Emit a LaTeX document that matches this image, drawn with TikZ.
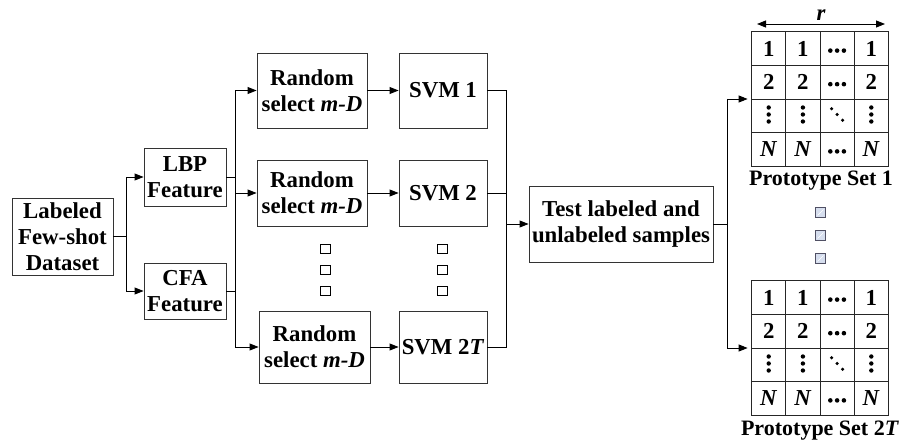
\documentclass[tikz,border=0pt]{standalone}
\usepackage{fontspec}
\setmainfont{Liberation Serif}
\usetikzlibrary{arrows.meta,matrix,calc}
\definecolor{sqfill}{RGB}{214,222,238}
\definecolor{sqline}{RGB}{80,80,100}
\begin{document}
\begin{tikzpicture}[x=1pt,y=-1pt,
  txt/.style={font=\bfseries\fontsize{22.8}{26}\selectfont},
  box/.style={txt,draw=black!80,line width=0.9pt,align=center,inner sep=0pt},
  conn/.style={line width=0.9pt},
  arr/.style={conn,-{Triangle[length=9pt,width=7pt]}},
  dotsq/.style={draw,line width=1pt,minimum width=10pt,minimum height=9pt,inner sep=0pt},
  lsq/.style={draw=sqline,fill=sqfill,line width=0.8pt,minimum width=10pt,minimum height=10pt,inner sep=0pt,
     path picture={\draw[white,line width=0.6pt] ([shift={(2pt,2pt)}]path picture bounding box.south west) -- ([shift={(-2pt,-2pt)}]path picture bounding box.north east);}},
  tbl/.style={matrix of nodes,column sep=-0.9pt,row sep=-0.9pt,
     nodes={draw=black!85,line width=0.9pt,minimum width=34.2pt,minimum height=33.6pt,inner sep=0pt,anchor=center,
            font=\bfseries\fontsize{22.8}{26}\selectfont}},
  lbl/.style={font=\bfseries\fontsize{22}{26}\selectfont,inner sep=0pt,anchor=base},
  dotc/.style={fill=black}
]
\useasboundingbox (0,0) rectangle (899,441);

% boxes
\node[box,minimum width=101pt,minimum height=77pt] (ds) at (62.5,236.5) {Labeled\\Few-shot\\Dataset};
\node[box,minimum width=82pt,minimum height=58pt] (lbp) at (185,177) {LBP\\Feature};
\node[box,minimum width=82pt,minimum height=56pt] (cfa) at (185,291) {CFA\\Feature};
\node[box,minimum width=110pt,minimum height=75pt] (r1) at (312,90.5) {Random\\select \textit{m-D}};
\node[box,minimum width=110pt,minimum height=66pt] (r2) at (312,193) {Random\\select \textit{m-D}};
\node[box,minimum width=111pt,minimum height=72pt] (r3) at (314.5,347) {Random\\select \textit{m-D}};
\node[box,minimum width=88pt,minimum height=75pt] (s1) at (443,90.5) {SVM 1};
\node[box,minimum width=88pt,minimum height=66pt] (s2) at (443,193) {SVM 2};
\node[box,minimum width=88pt,minimum height=72pt] (s3) at (443,347) {SVM 2\textit{T}};
\node[box,minimum width=184pt,minimum height=76pt] (t) at (621,224) {Test labeled and\\unlabeled samples};

% dot squares
\node[dotsq] (q1) at (325,249) {};
\node[dotsq] (q2) at (325,269.5) {};
\node[dotsq] (q3) at (325,290.5) {};
\node[dotsq] (q4) at (442.5,249) {};
\node[dotsq] (q5) at (442.5,269.5) {};
\node[dotsq] (q6) at (442.5,290.5) {};
\node[lsq] (l1) at (820.5,212.5) {};
\node[lsq] (l2) at (820.5,235.5) {};
\node[lsq] (l3) at (820.5,258.5) {};

% tables
\matrix (m1) [tbl] at (820,99) {
 1 & 1 & \phantom{1} & 1 \\
 2 & 2 & \phantom{1} & 2 \\
 \phantom{1} & \phantom{1} & \phantom{1} & \phantom{1} \\
 \textit{N} & \textit{N} & \phantom{1} & \textit{N} \\
};
\matrix (m2) [tbl] at (820,348) {
 1 & 1 & \phantom{1} & 1 \\
 2 & 2 & \phantom{1} & 2 \\
 \phantom{1} & \phantom{1} & \phantom{1} & \phantom{1} \\
 \textit{N} & \textit{N} & \phantom{1} & \textit{N} \\
};
\foreach \m in {m1,m2}{
  \foreach \r in {1,2,4}{
    \foreach \k in {-1,0,1}{\fill[dotc] ($(\m-\r-3)+(\k*6.8,2)$) circle (2.3pt);}
  }
  \foreach \c in {1,2,4}{
    \foreach \k in {-1,0,1}{\fill[dotc] ($(\m-3-\c)+(0,\k*7-1.3)$) circle (2.2pt);}
  }
  \foreach \k in {-1,0,1}{\fill[dotc] ($(\m-3-3)+(\k*5.5,\k*5.8-1.3)$) circle (1.8pt);}
}
\node[lbl] (p1) at (821,185) {Prototype Set 1};
\node[lbl] (p2) at (820,435) {Prototype Set 2\textit{T}};
\node[lbl,font=\bfseries\itshape\fontsize{22.8}{26}\selectfont] (rl) at (821,21) {r};
\coordinate (ra) at (757,24);
\coordinate (rb) at (885,24);
\draw[conn,{Triangle[length=9pt,width=7pt]}-{Triangle[length=9pt,width=7pt]}] (ra) -- (rb);

% connectors
\coordinate (b1) at (126,236.5);
\coordinate (b2) at (235,0);
\coordinate (b3) at (506,0);
\coordinate (b4) at (727,0);
\draw[conn] (ds.east) -- (b1);
\draw[arr] (b1) |- (lbp.west);
\draw[arr] (b1) |- (cfa.west);
\draw[conn] (lbp.east) -- (lbp.east -| b2);
\draw[conn] (cfa.east) -- (cfa.east -| b2);
\draw[conn] (b2 |- r1.west) -- (b2 |- r3.west);
\draw[arr] (b2 |- r1.west) -- (r1.west);
\draw[arr] (b2 |- r2.west) -- (r2.west);
\draw[arr] (b2 |- r3.west) -- (r3.west);
\draw[arr] (r1.east) -- (s1.west);
\draw[arr] (r2.east) -- (s2.west);
\draw[arr] (r3.east) -- (s3.west);
\draw[conn] (s1.east) -| (b3 |- s3.east) -- (s3.east);
\draw[conn] (s2.east) -- (s2.east -| b3);
\draw[arr] (b3 |- t.west) -- (t.west);
\draw[conn] (t.east) -- (t.east -| b4);
\draw[conn] (b4 |- m1.west) -- (b4 |- m2.west);
\draw[arr] (b4 |- m1.west) -- (m1.west);
\draw[arr] (b4 |- m2.west) -- (m2.west);
\end{tikzpicture}
\end{document}
